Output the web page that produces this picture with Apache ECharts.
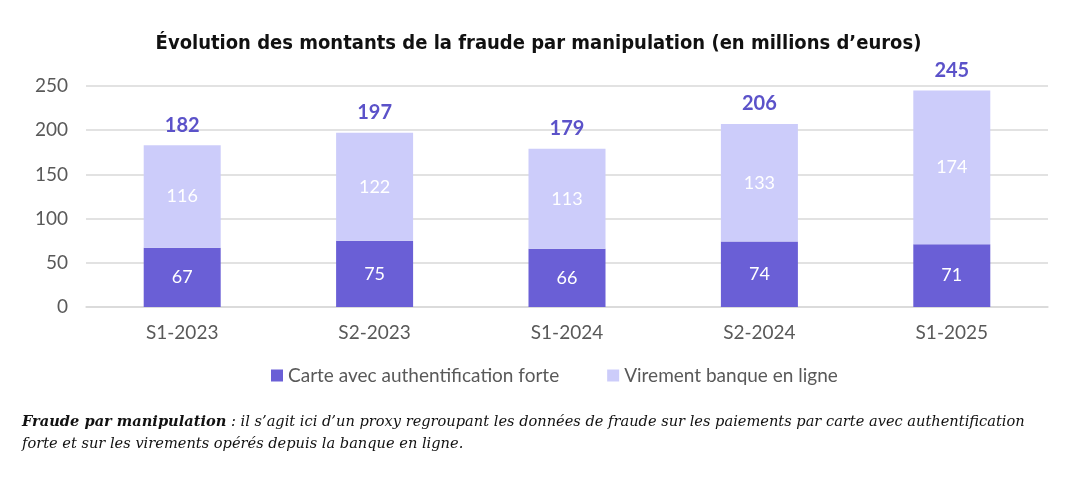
<!DOCTYPE html>
<html><head><meta charset="utf-8">
<script src="https://cdn.jsdelivr.net/npm/echarts@6/dist/echarts.min.js"></script>
<style>html,body{margin:0;padding:0;background:#fff}#c{width:1077px;height:485px}</style>
</head><body><div id="c"></div>
<script>
const categories = ['S1-2023','S2-2023','S1-2024','S2-2024','S1-2025'];
const carte = [67,75,66,74,71];
const virement = [116,122,113,133,174];
const totals = [182,197,179,206,245];
const yTicks = [0,50,100,150,200,250];

const chart = echarts.init(document.getElementById('c'));
const labelFont = 'Lato, "Open Sans", sans-serif';
const noteFont = '"DejaVu Serif",serif';
chart.setOption({
  animation:false,
  title:{text:'Évolution des montants de la fraude par manipulation (en millions d’euros)',left:'center',top:29,
    textStyle:{fontFamily:'"DejaVu Sans Condensed","DejaVu Sans",sans-serif',fontSize:20,fontWeight:'bold',color:'#111'}},
  grid:{left:86,right:29,top:86,bottom:178},
  legend:{data:['Carte avec authentification forte','Virement banque en ligne'],bottom:95,left:266,itemWidth:12,itemHeight:12,itemGap:48,icon:'rect',
    textStyle:{fontFamily:labelFont,fontSize:19,color:'#595959'}},
  xAxis:{type:'category',data:categories,axisTick:{show:false},axisLine:{lineStyle:{color:'#d9d9d9',width:1.5}},
    axisLabel:{fontFamily:labelFont,fontSize:19,color:'#595959',margin:16}},
  yAxis:{type:'value',min:0,max:250,interval:50,splitLine:{lineStyle:{color:'#d9d9d9',width:1.5}},
    axisLabel:{fontFamily:labelFont,fontSize:19,color:'#595959',margin:18,formatter:v=>yTicks.includes(v)?String(v):''}},
  series:[
    {name:'Carte avec authentification forte',type:'bar',stack:'t',data:carte,barWidth:77,itemStyle:{color:'#6a5fd6'},
      label:{show:true,position:'inside',color:'#fff',fontFamily:labelFont,fontSize:18}},
    {name:'Virement banque en ligne',type:'bar',stack:'t',data:virement,itemStyle:{color:'#ccccfa'},
      label:{show:true,position:'inside',color:'#fff',fontFamily:labelFont,fontSize:18}},
    {name:'Total',type:'bar',stack:'t',data:totals.map(()=>0),itemStyle:{color:'transparent'},
      label:{show:true,position:'top',distance:10,formatter:p=>String(totals[p.dataIndex]),color:'#5b52c9',fontFamily:labelFont,fontSize:20,fontWeight:'bold'}}
  ],
  graphic:[
    {type:'text',left:22,top:415,style:{rich:{b:{fontFamily:noteFont,fontStyle:'italic',fontWeight:'bold',fontSize:14.6,fill:'#111'},n:{fontFamily:noteFont,fontStyle:'italic',fontSize:14.6,fill:'#111'}},
      text:'{b|Fraude par manipulation}{n| : il s’agit ici d’un proxy regroupant les données de fraude sur les paiements par carte avec authentification}'}},
    {type:'text',left:22,top:437,style:{fontFamily:noteFont,fontStyle:'italic',fontSize:14.6,fill:'#111',
      text:'forte et sur les virements opérés depuis la banque en ligne.'}}
  ]
});
</script></body></html>
